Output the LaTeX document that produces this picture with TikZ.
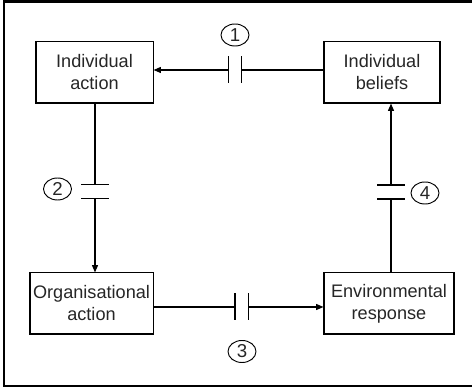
\documentclass[tikz,border=0pt]{standalone}
\usepackage{fontspec}
\setmainfont{Liberation Sans}
\usetikzlibrary{calc, arrows.meta, shapes.geometric}

\begin{document}
\begin{tikzpicture}[x=0.75pt, y=-0.75pt,
    box/.style={draw, line width=0.8pt, minimum height=45.8pt, inner sep=0pt,
        align=center, font=\fontsize{13.6}{16.5}\selectfont, text=black!85},
    num/.style={draw, ellipse, line width=0.7pt, minimum width=21pt, minimum height=16.5pt,
        inner sep=0pt, font=\fontsize{14}{16}\selectfont, text=black!85},
    link/.style={line width=0.8pt},
    arr/.style={line width=0.8pt, -{Triangle[length=5.5pt,width=4.5pt]}}]
            \useasboundingbox (0,0) rectangle (472,388);
            \draw[line width=1.6pt] (476,1.5)--(4,1.5)--(4,386)--(476,386);

            \node[box, minimum width=87.8pt] (IA) at (94.5,72.5) {Individual\\action};
            \node[box, minimum width=87pt] (IB) at (382,72.5) {Individual\\beliefs};
            \node[box, minimum width=92.3pt] (OA) at (91.5,303.5) {Organisational\\action};
            \node[box, minimum width=97.5pt] (ER) at (389,303.5) {Environmental\\response};

            % gaps
            \coordinate (G1a) at (241.7,70);
            \coordinate (G1b) at (228.3,70);
            \coordinate (G2a) at (95,184.3);
            \coordinate (G2b) at (95,198.3);
            \coordinate (G3a) at (235,307);
            \coordinate (G3b) at (248.3,307);
            \coordinate (G4a) at (391,199);
            \coordinate (G4b) at (391,185);

            \draw[link] (IB.west |- G1a)--(G1a);
            \draw[arr] (G1b)--(IA.east |- G1b);
            \draw[link] (IA.south -| G2a)--(G2a);
            \draw[arr] (G2b)--(OA.north -| G2b);
            \draw[link] (OA.east |- G3a)--(G3a);
            \draw[arr] (G3b)--(ER.west |- G3b);
            \draw[link] (ER.north -| G4a)--(G4a);
            \draw[arr] (G4b)--(IB.south -| G4b);

            \foreach \g in {G1a,G1b,G3a,G3b}
                \draw[line width=1.1pt] (\g)+(0,-13.5)--+(0,13.5);
            \foreach \g in {G2a,G2b,G4a,G4b}
                \draw[line width=1.1pt] (\g)+(-14,0)--+(14,0);

            \node[num] (N1) at (235,35) {1};
            \node[num] (N2) at (57.5,189) {2};
            \node[num] (N3) at (242,351.5) {3};
            \node[num] (N4) at (425,193) {4};
        \end{tikzpicture}
\end{document}
